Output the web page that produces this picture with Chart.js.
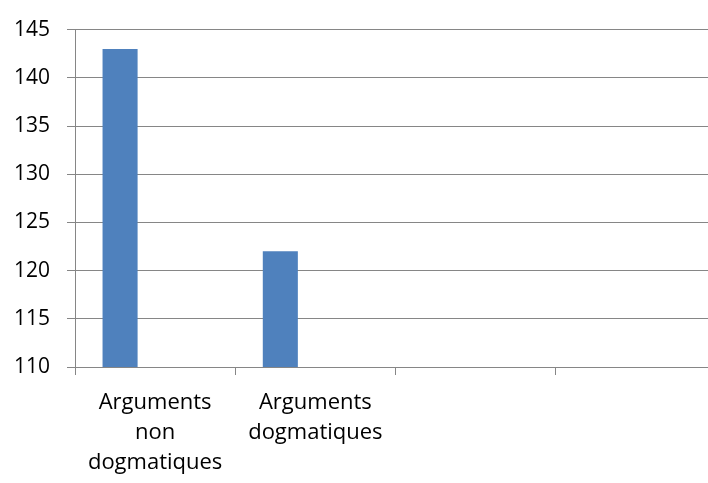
<!DOCTYPE html>
<html>
<head>
<meta charset="utf-8">
<script src="https://cdn.jsdelivr.net/npm/chart.js@4"></script>
<style>
html,body{margin:0;padding:0;background:#fff;overflow:hidden;}
canvas{display:block;}
</style>
</head>
<body>
<canvas id="c" width="716" height="483"></canvas>
<script>
const categories = [["Arguments","non","dogmatiques"], ["Arguments","dogmatiques"], "", ""];
const series1 = [143, 122, null, null];
const series2 = [null, null, null, null];
const series3 = [null, null, null, null];
const yMin = 110, yMax = 145, yStep = 5;

const grey = '#868686';
const fontFam = '"Open Sans", sans-serif';
new Chart(document.getElementById('c'), {
  type: 'bar',
  data: {
    labels: categories,
    datasets: [
      {label: 'S1', data: series1, backgroundColor: '#4F81BD', borderWidth: 0},
      {label: 'S2', data: series2, backgroundColor: '#C0504D'},
      {label: 'S3', data: series3, backgroundColor: '#9BBB59'}
    ]
  },
  options: {
    responsive: false,
    devicePixelRatio: 1,
    animation: false,
    categoryPercentage: 105/160,
    barPercentage: 1,
    layout: {padding: {top: 18, right: 0, left: 0, bottom: 0}},
    plugins: {legend: {display: false}, tooltip: {enabled: false}},
    scales: {
      x: {
        offset: true,
        grid: {offset: true, drawOnChartArea: false, drawTicks: true, tickLength: 8, color: grey, lineWidth: 1},
        border: {color: grey, width: 1},
        ticks: {color: '#000', font: {family: fontFam, size: 22, lineHeight: 30/22}, padding: 13, maxRotation: 0, autoSkip: false},
        afterFit: s => { s.height = 116; }
      },
      y: {
        min: yMin, max: yMax,
        grid: {color: grey, lineWidth: 1, tickLength: 8},
        border: {color: grey, width: 1},
        ticks: {stepSize: yStep, color: '#000', font: {family: fontFam, size: 21}, padding: 17},
        afterFit: s => { s.width = 75; }
      }
    }
  }
});
</script>
</body>
</html>
